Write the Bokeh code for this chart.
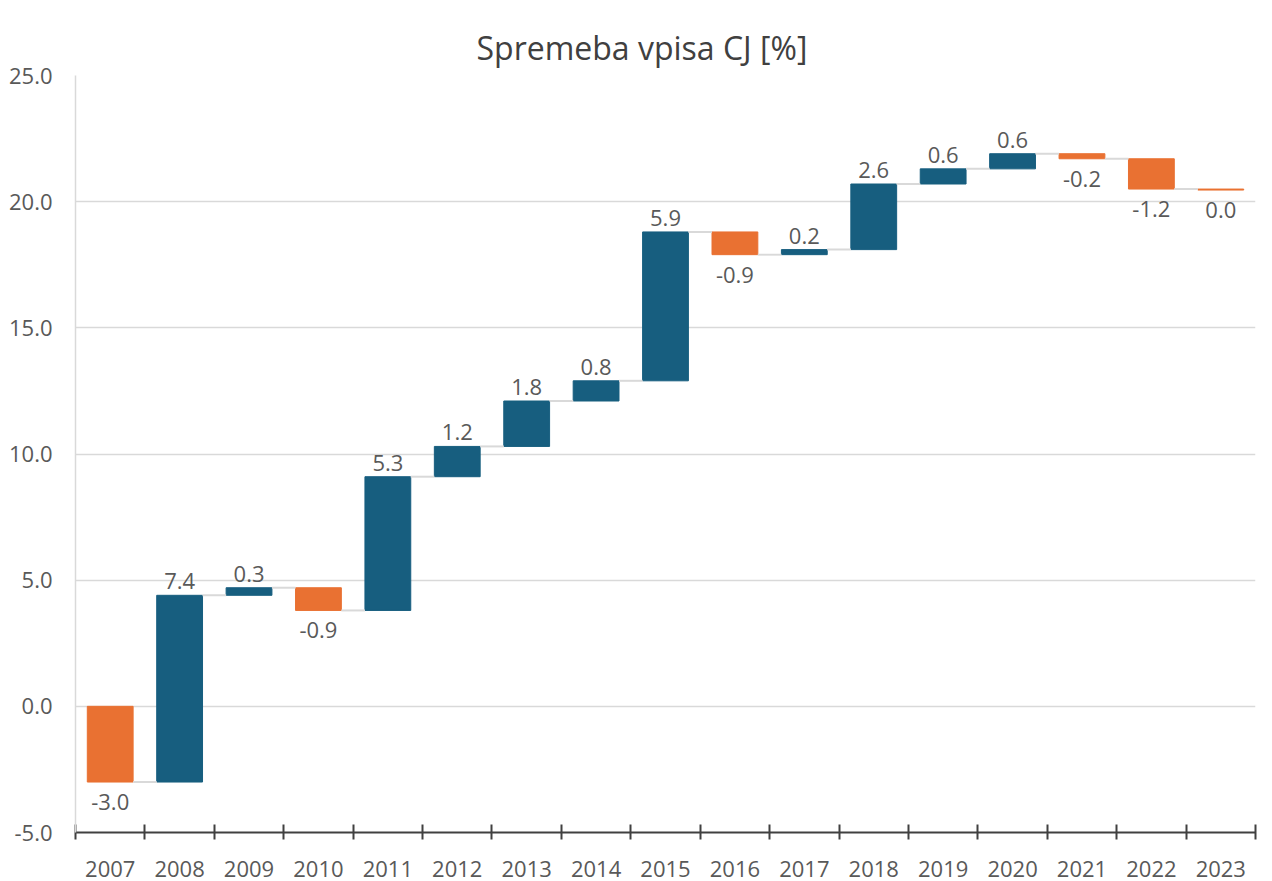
from bokeh.plotting import figure
from bokeh.models import (Range1d, LinearAxis, FixedTicker, NumeralTickFormatter,
                          ColumnDataSource, CustomJSTickFormatter)
from bokeh.embed import file_html
from bokeh.resources import INLINE
from bokeh.core.properties import value

years = [str(y) for y in range(2007, 2024)]
changes = [-3.0, 7.4, 0.3, -0.9, 5.3, 1.2, 1.8, 0.8, 5.9, -0.9, 0.2, 2.6, 0.6, 0.6, -0.2, -1.2, -0.04]
y_ticks = [-5, 0, 5, 10, 15, 20, 25]

BLUE = "#175E7F"
ORANGE = "#E97132"
FONT = "Open Sans"

# waterfall geometry from the data
ends, starts = [], []
acc = 0.0
for c in changes:
    starts.append(acc)
    acc += c
    ends.append(acc)
bottoms = [min(s, e) for s, e in zip(starts, ends)]
tops = [max(s, e) for s, e in zip(starts, ends)]
colors = [BLUE if c > 0 else ORANGE for c in changes]
labels = [f"{abs(c):.1f}" if abs(c) < 0.05 else f"{c:.1f}" for c in changes]
n = len(years)
xc = [i + 0.5 for i in range(n)]

p = figure(width=1264, height=881, x_range=Range1d(0, n), y_range=Range1d(-5, 25),
           output_backend="svg", toolbar_location=None,
           x_axis_location=None, y_axis_location=None,
           min_border_left=75, min_border_right=9, min_border_top=75, min_border_bottom=49)
p.outline_line_color = None
p.background_fill_color = "white"

p.title.text = "Spremeba vpisa CJ [%]"
p.title.align = "left"
p.title.offset = 401
p.title.vertical_align = "top"
p.title.text_font = FONT
p.title.text_font_size = "32px"
p.title.text_font_style = "normal"
p.title.text_color = "#404040"
p.title.standoff = 10

# y axis
yax = LinearAxis(ticker=FixedTicker(ticks=y_ticks), formatter=NumeralTickFormatter(format="0.0"))
yax.axis_line_color = "#d9d9d9"
yax.axis_line_width = 1.5
yax.major_tick_line_color = None
yax.minor_tick_line_color = None
yax.major_label_text_font = FONT
yax.major_label_text_font_size = "22px"
yax.major_label_text_color = "#595959"
yax.major_label_standoff = 17
p.add_layout(yax, "left")

# x axis line with boundary ticks
xticks_ax = LinearAxis(ticker=FixedTicker(ticks=list(range(n + 1))))
xticks_ax.axis_line_color = "#404040"
xticks_ax.axis_line_width = 2
xticks_ax.major_tick_line_color = "#404040"
xticks_ax.major_tick_line_width = 2
xticks_ax.major_tick_in = 8
xticks_ax.major_tick_out = 7
xticks_ax.minor_tick_line_color = None
xticks_ax.major_label_text_alpha = 0
xticks_ax.major_label_text_font_size = "1px"
xticks_ax.major_label_standoff = 0
p.add_layout(xticks_ax, "below")

# category labels at bar centres
xlab = LinearAxis(ticker=FixedTicker(ticks=xc),
                  formatter=CustomJSTickFormatter(args=dict(names=years),
                                                  code="return names[Math.floor(tick)] || '';"))
xlab.axis_line_color = None
xlab.major_tick_line_color = None
xlab.minor_tick_line_color = None
xlab.major_label_text_font = FONT
xlab.major_label_text_font_size = "22px"
xlab.major_label_text_color = "#595959"
xlab.major_label_standoff = 15
p.add_layout(xlab, "below")

p.xgrid.visible = False
p.ygrid.ticker = FixedTicker(ticks=y_ticks)
p.ygrid.grid_line_color = "#d9d9d9"
p.ygrid.grid_line_width = 1.5

src = ColumnDataSource(dict(x=xc, bottom=bottoms, top=tops, color=colors, label=labels))
p.vbar(x="x", bottom="bottom", top="top", width=0.66, fill_color="color", line_color="color",
       source=src)

# connectors
cx0 = [x + 0.33 for x in xc[:-1]]
cx1 = [x - 0.33 for x in xc[1:]]
p.segment(x0=cx0, x1=cx1, y0=ends[:-1], y1=ends[:-1], line_color="#d9d9d9", line_width=2)

pos = [i for i, c in enumerate(changes) if c > 0]
neg = [i for i, c in enumerate(changes) if c <= 0]
p.text(x=[xc[i] for i in pos], y=[tops[i] for i in pos], text=[labels[i] for i in pos],
       text_align="center", text_baseline="bottom", y_offset=-6,
       text_font=value(FONT), text_font_size="22px", text_color="#595959")
p.text(x=[xc[i] for i in neg], y=[bottoms[i] for i in neg], text=[labels[i] for i in neg],
       text_align="center", text_baseline="top", y_offset=12,
       text_font=value(FONT), text_font_size="22px", text_color="#595959")

open("out.html", "w").write(file_html(p, INLINE))
